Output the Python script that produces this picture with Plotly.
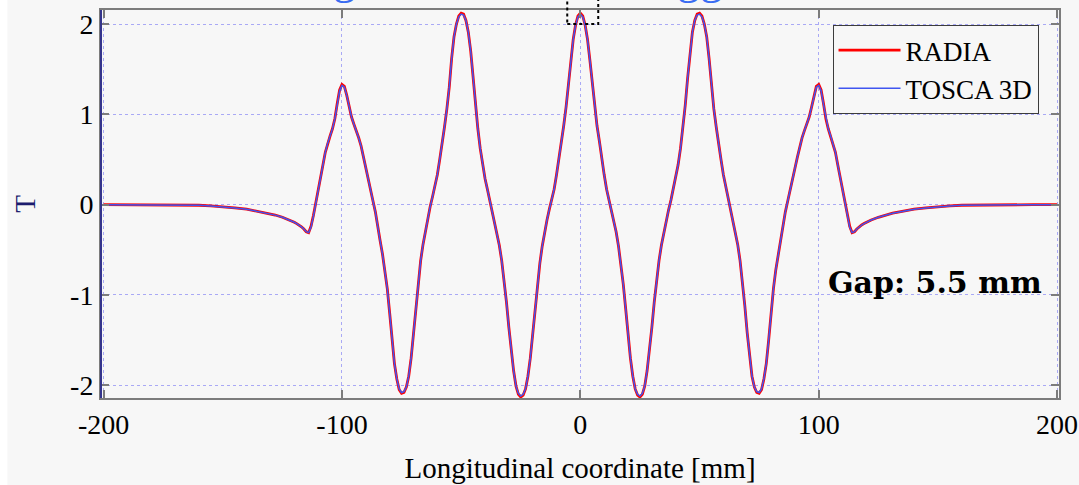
import plotly.graph_objects as go

# Longitudinal positions [mm]: sparse in the fringe tails, 1 mm through the magnet
x_tail_left = [-200, -190, -180, -170, -160, -155, -150, -145, -140, -135, -131, -128, -125, -122]
x_core = list(range(-120, 121))
x_tail_right = [122, 125, 128, 131, 135, 140, 145, 150, 155, 160, 170, 180, 190, 200]
x_mm = x_tail_left + x_core + x_tail_right

# Vertical field [T] computed with RADIA
b_radia = [
    0.0, 0.0, 0.0, -0.003, -0.007, -0.013, -0.022, -0.035, -0.05, -0.075, -0.095, -0.115, -0.14, -0.17,
    -0.195, -0.21, -0.225, -0.245, -0.27, -0.30, -0.31, -0.24, -0.12, 0.03,
    0.15, 0.30, 0.44, 0.58, 0.68, 0.76, 0.84, 0.95, 1.12, 1.27,
    1.33, 1.31, 1.21, 1.08, 0.97, 0.89, 0.82, 0.74, 0.65, 0.52,
    0.40, 0.27, 0.15, 0.04, -0.08, -0.22, -0.40, -0.55, -0.72, -0.93,
    -1.20, -1.50, -1.76, -1.93, -2.05, -2.09, -2.08, -2.02, -1.90, -1.70,
    -1.42, -1.12, -0.84, -0.62, -0.44, -0.29, -0.15, -0.02, 0.09, 0.20,
    0.33, 0.50, 0.66, 0.86, 1.06, 1.30, 1.62, 1.86, 2.00, 2.09,
    2.12, 2.11, 2.04, 1.91, 1.70, 1.40, 1.10, 0.84, 0.62, 0.44,
    0.29, 0.17, 0.05, -0.06, -0.18, -0.31, -0.45, -0.62, -0.84, -1.08,
    -1.36, -1.62, -1.84, -2.01, -2.10, -2.13, -2.11, -2.04, -1.90, -1.70,
    -1.44, -1.15, -0.88, -0.65, -0.46, -0.30, -0.17, -0.05, 0.06, 0.17,
    0.33, 0.50, 0.70, 0.87, 1.08, 1.33, 1.60, 1.83, 1.99, 2.09,
    2.12,
    2.09, 1.99, 1.83, 1.60, 1.33, 1.08, 0.87, 0.70, 0.50, 0.33,
    0.17, 0.06, -0.05, -0.17, -0.30, -0.46, -0.65, -0.88, -1.15, -1.44,
    -1.70, -1.90, -2.04, -2.11, -2.13, -2.10, -2.01, -1.84, -1.62, -1.36,
    -1.08, -0.84, -0.62, -0.45, -0.31, -0.18, -0.06, 0.05, 0.17, 0.29,
    0.44, 0.62, 0.84, 1.10, 1.40, 1.70, 1.91, 2.04, 2.11, 2.12,
    2.09, 2.00, 1.86, 1.62, 1.30, 1.06, 0.86, 0.66, 0.50, 0.33,
    0.20, 0.09, -0.02, -0.15, -0.29, -0.44, -0.62, -0.84, -1.12, -1.42,
    -1.70, -1.90, -2.02, -2.08, -2.09, -2.05, -1.93, -1.76, -1.50, -1.20,
    -0.93, -0.72, -0.55, -0.40, -0.22, -0.08, 0.04, 0.15, 0.27, 0.40,
    0.52, 0.65, 0.74, 0.82, 0.89, 0.97, 1.08, 1.21, 1.31, 1.33,
    1.27, 1.12, 0.95, 0.84, 0.76, 0.68, 0.58, 0.44, 0.30, 0.15,
    0.03, -0.12, -0.24, -0.31, -0.30, -0.27, -0.245, -0.225, -0.21, -0.195,
    -0.17, -0.14, -0.115, -0.095, -0.075, -0.05, -0.035, -0.022, -0.013, -0.007, -0.003, 0.0, 0.0, 0.0,
]

# Vertical field [T] computed with TOSCA 3D
b_tosca = [
    0.0, 0.0, 0.0, -0.003, -0.008, -0.014, -0.023, -0.036, -0.05, -0.076, -0.096, -0.116, -0.14, -0.17,
    -0.195, -0.21, -0.226, -0.246, -0.27, -0.30, -0.31, -0.25, -0.13, 0.02,
    0.15, 0.30, 0.44, 0.58, 0.68, 0.76, 0.84, 0.95, 1.11, 1.26,
    1.32, 1.30, 1.21, 1.08, 0.97, 0.89, 0.82, 0.74, 0.65, 0.52,
    0.40, 0.27, 0.15, 0.04, -0.08, -0.22, -0.40, -0.55, -0.72, -0.93,
    -1.20, -1.50, -1.76, -1.93, -2.04, -2.08, -2.07, -2.02, -1.90, -1.70,
    -1.42, -1.12, -0.84, -0.62, -0.44, -0.29, -0.15, -0.02, 0.09, 0.20,
    0.33, 0.50, 0.66, 0.86, 1.06, 1.30, 1.62, 1.86, 2.00, 2.08,
    2.11, 2.10, 2.04, 1.91, 1.70, 1.40, 1.10, 0.84, 0.62, 0.44,
    0.29, 0.17, 0.05, -0.06, -0.18, -0.31, -0.45, -0.62, -0.84, -1.08,
    -1.36, -1.62, -1.84, -2.01, -2.09, -2.12, -2.10, -2.04, -1.90, -1.70,
    -1.44, -1.15, -0.88, -0.65, -0.46, -0.30, -0.17, -0.05, 0.06, 0.17,
    0.33, 0.50, 0.70, 0.87, 1.08, 1.33, 1.60, 1.83, 1.99, 2.08,
    2.11,
    2.08, 1.99, 1.83, 1.60, 1.33, 1.08, 0.87, 0.70, 0.50, 0.33,
    0.17, 0.06, -0.05, -0.17, -0.30, -0.46, -0.65, -0.88, -1.15, -1.44,
    -1.70, -1.90, -2.04, -2.10, -2.12, -2.09, -2.01, -1.84, -1.62, -1.36,
    -1.08, -0.84, -0.62, -0.45, -0.31, -0.18, -0.06, 0.05, 0.17, 0.29,
    0.44, 0.62, 0.84, 1.10, 1.40, 1.70, 1.91, 2.04, 2.10, 2.11,
    2.08, 2.00, 1.86, 1.62, 1.30, 1.06, 0.86, 0.66, 0.50, 0.33,
    0.20, 0.09, -0.02, -0.15, -0.29, -0.44, -0.62, -0.84, -1.12, -1.42,
    -1.70, -1.90, -2.02, -2.07, -2.08, -2.04, -1.93, -1.76, -1.50, -1.20,
    -0.93, -0.72, -0.55, -0.40, -0.22, -0.08, 0.04, 0.15, 0.27, 0.40,
    0.52, 0.65, 0.74, 0.82, 0.89, 0.97, 1.08, 1.21, 1.30, 1.32,
    1.26, 1.11, 0.95, 0.84, 0.76, 0.68, 0.58, 0.44, 0.30, 0.15,
    0.02, -0.13, -0.25, -0.31, -0.30, -0.27, -0.246, -0.226, -0.21, -0.195,
    -0.17, -0.14, -0.116, -0.096, -0.076, -0.05, -0.036, -0.023, -0.014, -0.008, -0.003, 0.0, 0.0, 0.0,
]

x_ticks = [-200, -100, 0, 100, 200]
x_tick_text = ["-200", "-100", "0", "100", "200"]
y_ticks = [-2, -1, 0, 1, 2]
y_tick_text = ["-2", "-1", "0", "1", "2"]

x_range = [-201.1, 200.8]
y_range = [-2.141, 2.155]

serif = "Liberation Serif, Times New Roman, serif"
bg = "#f7f7f7"
grid = "#a9a9f5"
frame = "#7c7c7c"

fig = go.Figure()
fig.add_trace(go.Scatter(x=x_mm, y=b_radia, mode="lines", name="RADIA",
                         line=dict(color="#ff0000", width=2.8)))
fig.add_trace(go.Scatter(x=x_mm, y=b_tosca, mode="lines", name="TOSCA 3D",
                         line=dict(color="#3f55f0", width=1.5)))


def xp(v):
    """data x -> paper x"""
    return (v - x_range[0]) / (x_range[1] - x_range[0])


def yp(v):
    """data y -> paper y"""
    return (v - y_range[0]) / (y_range[1] - y_range[0])


shapes = [
    # thin white strip at the far left of the canvas
    dict(type="rect", xref="paper", yref="paper", x0=-0.2, x1=-0.0977, y0=-0.3, y1=1.1,
         fillcolor="white", line=dict(width=0), layer="below"),
    # dark left frame edge
    dict(type="line", xref="paper", yref="paper", x0=0, x1=0, y0=0, y1=1,
         line=dict(color="#34348c", width=2), layer="above"),
    # dotted marker around the central maximum, open past the top of the frame
    dict(type="rect", xref="paper", yref="paper", x0=xp(-5.5), x1=xp(7.5), y0=yp(2.0), y1=1.06,
         line=dict(color="black", width=2, dash="dot"), fillcolor="rgba(0,0,0,0)", layer="above"),
]

annotations = [
    dict(text="<b>Gap: 5.5 mm</b>", xref="paper", yref="paper", x=0.7567, y=0.298,
         xanchor="left", yanchor="middle", showarrow=False,
         font=dict(family="DejaVu Serif, serif", size=30, color="black")),
    dict(text="g", xref="x", yref="paper", x=-99, y=1.012, xanchor="center", yanchor="bottom",
         showarrow=False, font=dict(family=serif, size=46, color="#3a6cf2")),
    dict(text="gg", xref="x", yref="paper", x=50, y=1.012, xanchor="center", yanchor="bottom",
         showarrow=False, font=dict(family=serif, size=46, color="#3a6cf2")),
]

fig.update_layout(
    width=1079, height=485,
    margin=dict(l=101, r=20, t=10, b=87),
    paper_bgcolor=bg, plot_bgcolor=bg,
    font=dict(family=serif, size=28, color="black"),
    showlegend=True,
    legend=dict(x=0.7636, y=0.9613, xanchor="left", yanchor="top",
                bgcolor=bg, bordercolor="#3c3c3c", borderwidth=1,
                font=dict(family=serif, size=27, color="black"),
                tracegroupgap=0, itemwidth=62),
    shapes=shapes,
    annotations=annotations,
    xaxis=dict(range=x_range, tickvals=x_ticks, ticktext=x_tick_text, automargin=False,
               ticks="inside", ticklen=8, tickcolor=frame, tickwidth=1.5,
               showgrid=True, gridcolor=grid, griddash="dot", gridwidth=1,
               zeroline=False, showline=True, linecolor=frame, linewidth=2, mirror="ticks",
               tickfont=dict(family=serif, size=28, color="black"),
               title=dict(text="Longitudinal coordinate [mm]", standoff=19,
                          font=dict(family=serif, size=29, color="black"))),
    yaxis=dict(range=y_range, tickvals=y_ticks, ticktext=y_tick_text, automargin=False,
               ticks="inside", ticklen=8, tickcolor=frame, tickwidth=1.5,
               showgrid=True, gridcolor=grid, griddash="dot", gridwidth=1,
               zeroline=False, showline=True, linecolor=frame, linewidth=2, mirror="ticks",
               tickfont=dict(family=serif, size=28, color="black"),
               title=dict(text="T", standoff=26,
                          font=dict(family=serif, size=29, color="#1c1c6e"))),
)

fig.write_html("out.html")
